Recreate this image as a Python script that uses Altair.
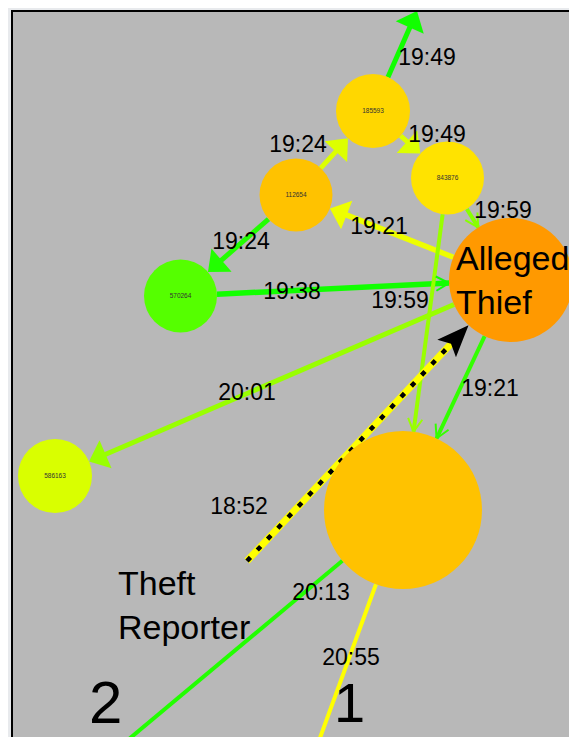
import math
import altair as alt
import pandas as pd

# ---- nodes (layout coordinates, radius = node weight) ----
node_id = ["185593", "843876", "112654", "570264", "586163", "Alleged Thief",
           "hub", "Theft Reporter", "top", "1", "2"]
node_x = [373, 447.5, 296, 180.5, 55, 511, 403, 247, 417, 301, 68]
node_y = [111, 178, 195, 296, 476, 280, 510, 561, 11, 790, 790]
node_r = [37, 36.5, 36.5, 36.5, 37, 62, 79, 0, 0, 30, 30]
node_color = ["#ffd700", "#ffe300", "#ffc200", "#55ff00", "#d9ff00", "#ff9900",
              "#ffc200", "#ffff00", "#11ff00", "#ffff00", "#22ff00"]
small_label = ["185593", "843876", "112654", "570264", "586163", "", "", "", "", "", ""]

# ---- edges ----
edge_src = ["185593", "112654", "185593", "Alleged Thief", "843876", "112654",
            "570264", "843876", "Alleged Thief", "Alleged Thief", "Theft Reporter",
            "hub", "hub"]
edge_tgt = ["top", "185593", "843876", "112654", "Alleged Thief", "570264",
            "Alleged Thief", "hub", "586163", "hub", "Alleged Thief", "2", "1"]
edge_time = ["19:49", "19:24", "19:49", "19:21", "19:59", "19:24", "19:38",
             "19:59", "20:01", "19:21", "18:52", "20:13", "20:55"]
edge_color = ["#11ff00", "#ddff00", "#ddff00", "#eeff00", "#88ff00", "#22ff00",
              "#11ff00", "#99ff00", "#99ff00", "#33ff00", "#ffff00", "#22ff00", "#ffff00"]
edge_width = [5, 5, 5, 5.5, 4, 5, 5.5, 4, 5, 4, 7, 4, 4]
edge_head = ["fill", "fill", "fill", "fill", "open", "fill", "open", "open",
             "fill", "open", "dotted", "open", "open"]
label_x = [427, 298, 437, 379, 503, 241, 292, 400, 247, 490, 239, 321, 351]
label_y = [58, 145, 135, 227, 211, 242, 292, 301, 393, 389, 507, 593, 658]

# ---- large annotations ----
big_text = ["Alleged\nThief", "Theft\nReporter", "1", "2"]
big_x = [456, 118, 334, 89]
big_y = [270, 595, 722, 723]
big_size = [34, 34, 56, 60]

X0, Y0, W, H = 12, 11, 557, 726

nodes = pd.DataFrame({"id": node_id, "x": node_x, "y": node_y, "r": node_r,
                      "color": node_color, "label": small_label})
nodes["size"] = (2 * nodes["r"]) ** 2   # Vega circle: radius = sqrt(size) / 2
P = {i: (x, y, r) for i, x, y, r in zip(node_id, node_x, node_y, node_r)}

rows = []
for s, t, tm, c, w, hd in zip(edge_src, edge_tgt, edge_time, edge_color, edge_width, edge_head):
    sx, sy, sr = P[s]
    tx, ty, tr = P[t]
    dx, dy = tx - sx, ty - sy
    d = math.hypot(dx, dy)
    ux, uy = dx / d, dy / d
    x1, y1 = sx + ux * sr, sy + uy * sr
    hx, hy = tx - ux * tr, ty - uy * tr
    back = {"fill": 10, "open": 0, "dotted": 22}[hd]
    rows.append({"x": x1, "y": y1, "x2": hx - ux * back, "y2": hy - uy * back,
                 "hx": hx, "hy": hy, "color": c, "w": w, "head": hd,
                 "angle": (math.degrees(math.atan2(ux, -uy)) + 360) % 360})
edges = pd.DataFrame(rows)
labels = pd.DataFrame({"x": label_x, "y": label_y, "text": edge_time})
bigl = pd.DataFrame({"x": big_x, "y": big_y, "text": big_text, "size": big_size})

xs = alt.Scale(domain=[X0, X0 + W], nice=False, zero=False)
ys = alt.Scale(domain=[Y0, Y0 + H], nice=False, zero=False, reverse=True)
X = lambda f: alt.X(f, scale=xs, axis=None)
Y = lambda f: alt.Y(f, scale=ys, axis=None)

frame = alt.Chart(pd.DataFrame({"a": [0]})).mark_rule(
    color="black", strokeWidth=2).encode(
    x=alt.value(0), x2=alt.value(0), y=alt.value(0), y2=alt.value(H))
frame_top = alt.Chart(pd.DataFrame({"a": [0]})).mark_rule(
    color="black", strokeWidth=2).encode(
    x=alt.value(-1), x2=alt.value(W), y=alt.value(0), y2=alt.value(0))

lines = alt.Chart(edges).mark_rule(clip=True, strokeCap="butt").encode(
    x=X("x:Q"), y=Y("y:Q"), x2="x2:Q", y2="y2:Q",
    color=alt.Color("color:N", scale=None),
    strokeWidth=alt.StrokeWidth("w:Q", scale=None))

dots = alt.Chart(edges).transform_filter("datum.head == 'dotted'").mark_rule(
    clip=True, color="black", strokeWidth=4.5, strokeDash=[5, 10], strokeCap="butt").encode(
    x=X("x:Q"), y=Y("y:Q"), x2="x2:Q", y2="y2:Q")

fill_heads = alt.Chart(edges).transform_filter("datum.head == 'fill'").mark_point(
    clip=True, shape="M0,0L-0.85,1L0.85,1Z", filled=True, opacity=1, size=1296,
    strokeWidth=0).encode(
    x=X("hx:Q"), y=Y("hy:Q"), color=alt.Color("color:N", scale=None),
    angle=alt.Angle("angle:Q", scale=None))

open_heads = alt.Chart(edges).transform_filter("datum.head == 'open'").mark_point(
    clip=True, shape="M-0.55,1L0,0L0.55,1", filled=False, opacity=1, size=676,
    strokeWidth=2).encode(
    x=X("hx:Q"), y=Y("hy:Q"), color=alt.Color("color:N", scale=None),
    angle=alt.Angle("angle:Q", scale=None))

black_head = alt.Chart(edges).transform_filter("datum.head == 'dotted'").mark_point(
    clip=True, shape="M0,0L-0.4,1L0,0.8L0.4,1Z", filled=True, opacity=1, size=4096,
    color="black", strokeWidth=0).encode(
    x=X("hx:Q"), y=Y("hy:Q"), angle=alt.Angle("angle:Q", scale=None))

circles = alt.Chart(nodes).transform_filter("datum.r > 0").mark_circle(
    clip=True, opacity=1).encode(
    x=X("x:Q"), y=Y("y:Q"), color=alt.Color("color:N", scale=None),
    size=alt.Size("size:Q", scale=None))

node_text = alt.Chart(nodes).mark_text(
    font="Liberation Sans", fontSize=6.5, color="#333333").encode(
    x=X("x:Q"), y=Y("y:Q"), text="label:N")

edge_text = alt.Chart(labels).mark_text(
    font="Liberation Sans", fontSize=23, color="black").encode(
    x=X("x:Q"), y=Y("y:Q"), text="text:N")

big_text_layer = alt.Chart(bigl).mark_text(
    font="Liberation Sans", align="left", baseline="alphabetic", lineBreak="\n",
    lineHeight=44, color="black").encode(
    x=X("x:Q"), y=Y("y:Q"), text="text:N",
    size=alt.Size("size:Q", scale=None))

chart = alt.layer(lines, dots, fill_heads, open_heads, black_head, circles,
                  node_text, edge_text, big_text_layer, frame, frame_top).properties(
    width=W, height=H, autosize="none",
    padding={"left": 4, "top": 3, "right": 0, "bottom": 0},
    background="#e8eaed"
).configure_view(fill="#b8b8b8", stroke=None)

chart.save("out.html", embed_options={"renderer": "svg", "actions": False})
